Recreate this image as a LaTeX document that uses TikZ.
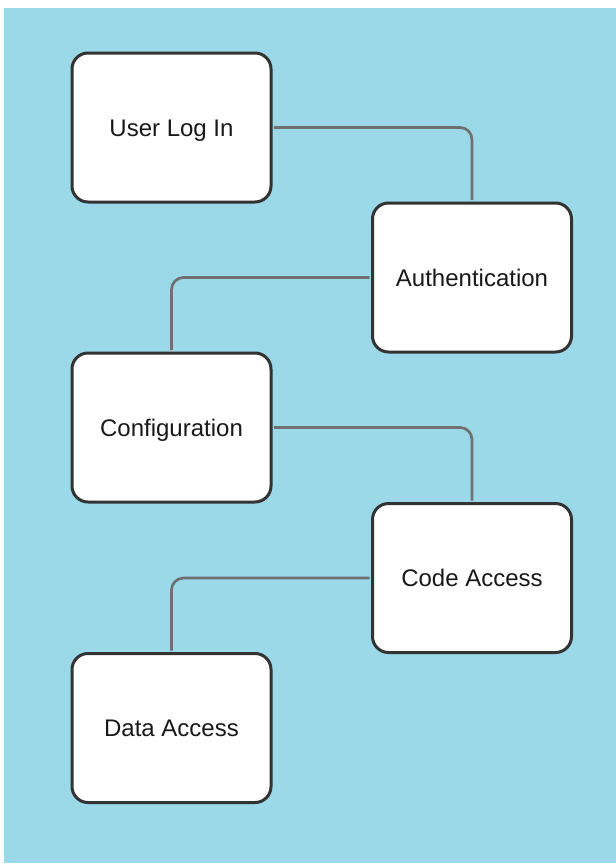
\documentclass[tikz,border=0pt]{standalone}
\usepackage{fontspec}
\setmainfont{Liberation Sans}
\usetikzlibrary{positioning}
\definecolor{skyback}{RGB}{155,217,233}
\definecolor{boxline}{RGB}{51,51,51}
\definecolor{wireline}{RGB}{112,112,112}
\tikzset{
    stagebox/.style={draw=boxline, fill=white, line width=2.25pt, rounded corners=12pt,
        minimum width=149.25pt, minimum height=111.75pt, inner sep=0pt,
        text height=12.9pt, text depth=0pt,
        text=black!90, font=\fontsize{18}{22}\selectfont},
    wire/.style={draw=wireline, line width=2pt, rounded corners=9pt, shorten >=1.1pt, shorten <=1.1pt}
}
\begin{document}
\begin{tikzpicture}[x=0.75pt, y=-0.75pt]
    \useasboundingbox (0,0) rectangle (616,864);
    \fill[skyback] (4,8) rectangle (616,863);

    % stages of the process
    \foreach \name/\x/\y/\txt in {login/171.5/127.5/User Log In, auth/472/277.5/Authentication,
        config/171.5/427.5/Configuration, code/472/578/Code Access, data/171.5/728/Data Access} {
        \node[stagebox] (\name) at (\x,\y) {\txt};
    }

    % draw the links
    \draw[wire] (login.east) -| (auth.north);
    \draw[wire] (auth.west) -| (config.north);
    \draw[wire] (config.east) -| (code.north);
    \draw[wire] (code.west) -| (data.north);
\end{tikzpicture}
\end{document}
